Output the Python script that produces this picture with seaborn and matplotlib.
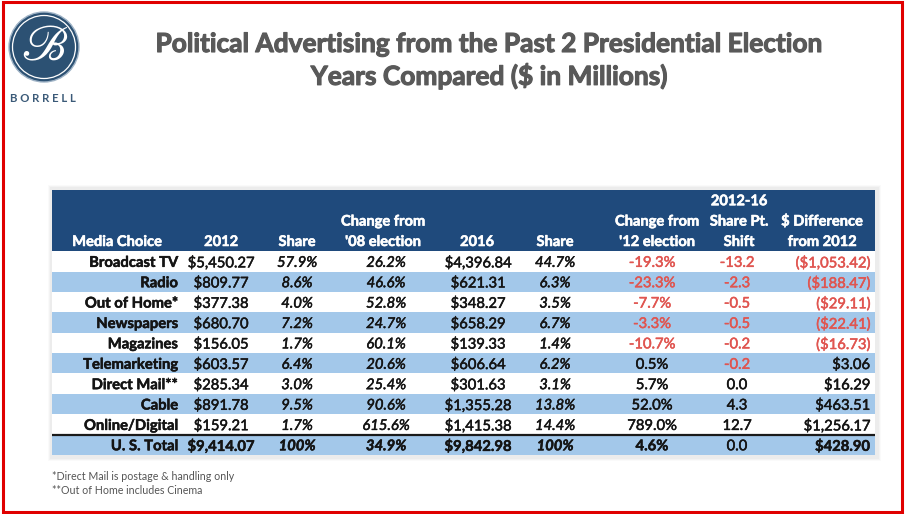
import numpy as np
import matplotlib.pyplot as plt
import matplotlib.patheffects as pe
import seaborn as sns
from matplotlib.colors import ListedColormap
from matplotlib.patches import Rectangle, Circle

media = ["Broadcast TV", "Radio", "Out of Home*", "Newspapers", "Magazines",
         "Telemarketing", "Direct Mail**", "Cable", "Online/Digital"]
spend_2012 = [5450.27, 809.77, 377.38, 680.70, 156.05, 603.57, 285.34, 891.78, 159.21]
share_2012 = [57.9, 8.6, 4.0, 7.2, 1.7, 6.4, 3.0, 9.5, 1.7]
chg_08 = [26.2, 46.6, 52.8, 24.7, 60.1, 20.6, 25.4, 90.6, 615.6]
spend_2016 = [4396.84, 621.31, 348.27, 658.29, 139.33, 606.64, 301.63, 1355.28, 1415.38]
share_2016 = [44.7, 6.3, 3.5, 6.7, 1.4, 6.2, 3.1, 13.8, 14.4]
chg_12 = [-19.3, -23.3, -7.7, -3.3, -10.7, 0.5, 5.7, 52.0, 789.0]
shift = [-13.2, -2.3, -0.5, -0.5, -0.2, -0.2, 0.0, 4.3, 12.7]
diff_2012 = [-1053.42, -188.47, -29.11, -22.41, -16.73, 3.06, 16.29, 463.51, 1256.17]

total_label = "U. S. Total"
total_2012 = 9414.07
total_share_2012 = 100
total_chg_08 = 34.9
total_2016 = 9842.98
total_share_2016 = 100
total_chg_12 = 4.6
total_shift = 0.0
total_diff = 428.90

headers = [["Media Choice"], ["2012"], ["Share"], ["Change from", "'08 election"],
           ["2016"], ["Share"], ["Change from", "'12 election"],
           ["2012-16", "Share Pt.", "Shift"], ["$ Difference", "from 2012"]]

NAVY = "#1f4a7c"
LIGHT = "#a3c8ea"
RED = "#e05550"
INK = "#141414"

sns.set_theme(style="white")
plt.rcParams['font.family'] = ['Lato', 'DejaVu Sans']
plt.rcParams['mathtext.fontset'] = 'stix'

W, H = 905, 514
fig = plt.figure(figsize=(W / 100, H / 100), dpi=100)
renderer = fig.canvas.get_renderer()


def fit_size(s, target, weight='normal', style='normal', base=10):
    t = fig.text(0, 0, s, fontsize=base, fontweight=weight, fontstyle=style)
    w = t.get_window_extent(renderer=renderer).width
    t.remove()
    return base * target / w


def money(v):
    if v < 0:
        return "(${:,.2f})".format(-v)
    return "${:,.2f}".format(v)


def thick(c, lw=0.35):
    return [pe.withStroke(linewidth=lw, foreground=c)]


# background layer: border, logo, table shadow
ax_bg = fig.add_axes([0, 0, 1, 1])
ax_bg.set_xlim(0, W)
ax_bg.set_ylim(H, 0)
ax_bg.axis('off')
ax_bg.set_zorder(0)

ax_bg.add_patch(Rectangle((2.5, 1.5), 899.5, 510, fill=False, edgecolor="#e00000", lw=2.2))

# logo
ax_bg.add_patch(Circle((44, 47), 35, facecolor="#2c5173", edgecolor="#9fb3c6", lw=1.0))
ax_bg.add_patch(Circle((44, 47), 31.5, facecolor="none", edgecolor="white", lw=0.9))
ax_bg.text(45, 46, r"$\mathscr{B}$", color="white", fontsize=36, ha='center', va='center')
ax_bg.text(43, 98, "B O R R E L L", color="#3b5a78", fontsize=8.2, ha='center', va='center',
           fontweight='bold')

# faint shadow around the table
for k, a in enumerate([0.05, 0.05, 0.04]):
    ax_bg.add_patch(Rectangle((50 - k, 187 - k), 829 + 2 * k, 272 + 2 * k,
                              facecolor="#808080", edgecolor='none', alpha=a))

# table cells as a striped heatmap: header rows + alternating body rows
n_rows = len(media) + 1
stripes = np.array([[2]] * 3 + [[i % 2] for i in range(n_rows)])
left, right, top, bottom = 52, 875, 190, 455
ax_tab = fig.add_axes([left / W, 1 - bottom / H, (right - left) / W, (bottom - top) / H])
ax_tab.set_zorder(1)
sns.heatmap(stripes, ax=ax_tab, cmap=ListedColormap(["white", LIGHT, NAVY]),
            vmin=-0.5, vmax=2.5, cbar=False, xticklabels=False, yticklabels=False)
ax_tab.axhline(3 + len(media), color="#1a1a1a", lw=1.6)
ax_tab.axis('off')

# text layer
ax = fig.add_axes([0, 0, 1, 1])
ax.set_xlim(0, W)
ax.set_ylim(H, 0)
ax.axis('off')
ax.set_zorder(2)
ax.patch.set_alpha(0)

title_fs = fit_size("Political Advertising from the Past 2 Presidential Election", 668, 'bold')
for ty, line in [(44, "Political Advertising from the Past 2 Presidential Election"),
                 (76, "Years Compared ($ in Millions)")]:
    ax.text(489, ty, line, fontsize=title_fs, fontweight='bold', color="#595959",
            ha='center', va='center', path_effects=thick("#595959", 0.8))

body_fs = fit_size("$5,450.27", 67)
head_fs = fit_size("Media Choice", 90, 'bold')

# column anchors (x, alignment)
cols = [(178, 'right'), (221, 'center'), (297, 'center'), (386, 'center'),
        (478, 'center'), (555, 'center'), (652, 'center'), (737, 'center'), (870, 'right')]
head_x = [117, 221, 297, 383, 477, 555, 657, 739, 822]

rh = (bottom - top) / len(stripes)
for hx, lines in zip(head_x, headers):
    for j, line in enumerate(reversed(lines)):
        ax.text(hx, 246 - j * rh, line, color="white", fontsize=head_fs,
                fontweight='bold', ha='center', va='baseline', path_effects=thick("white", 0.4))

body_top = top + 3 * rh
for i in range(n_rows):
    y = body_top + rh * (i + 0.5)
    if i < len(media):
        cells = [
            (media[i], INK, 'bold', 'normal'),
            (money(spend_2012[i]), INK, 'normal', 'normal'),
            ("{:.1f}%".format(share_2012[i]), INK, 'normal', 'italic'),
            ("{:.1f}%".format(chg_08[i]), INK, 'normal', 'italic'),
            (money(spend_2016[i]), INK, 'normal', 'normal'),
            ("{:.1f}%".format(share_2016[i]), INK, 'normal', 'italic'),
            ("{:.1f}%".format(chg_12[i]), RED if chg_12[i] < 0 else INK, 'normal', 'normal'),
            ("{:.1f}".format(shift[i]), RED if shift[i] < 0 else INK, 'normal', 'normal'),
            (money(diff_2012[i]), RED if diff_2012[i] < 0 else INK, 'normal', 'normal'),
        ]
    else:
        cells = [
            (total_label, INK, 'bold', 'normal'),
            (money(total_2012), INK, 'bold', 'normal'),
            ("{}%".format(total_share_2012), INK, 'bold', 'italic'),
            ("{:.1f}%".format(total_chg_08), INK, 'bold', 'italic'),
            (money(total_2016), INK, 'bold', 'normal'),
            ("{}%".format(total_share_2016), INK, 'bold', 'italic'),
            ("{:.1f}%".format(total_chg_12), INK, 'bold', 'normal'),
            ("{:.1f}".format(total_shift), INK, 'normal', 'normal'),
            (money(total_diff), INK, 'bold', 'normal'),
        ]
    for (x, ha), (s, c, wt, st) in zip(cols, cells):
        ax.text(x, y, s, color=c, fontsize=body_fs, fontweight=wt, fontstyle=st,
                ha=ha, va='center_baseline', path_effects=thick(c, 0.35))

# footnotes
note_fs = fit_size("*Direct Mail is postage & handling only", 182)
ax.text(52, 477, "*Direct Mail is postage & handling only", fontsize=note_fs,
        color="#555555", ha='left', va='center')
ax.text(52, 491, "**Out of Home includes Cinema", fontsize=note_fs,
        color="#555555", ha='left', va='center')

fig.savefig("out.png", dpi=100)
